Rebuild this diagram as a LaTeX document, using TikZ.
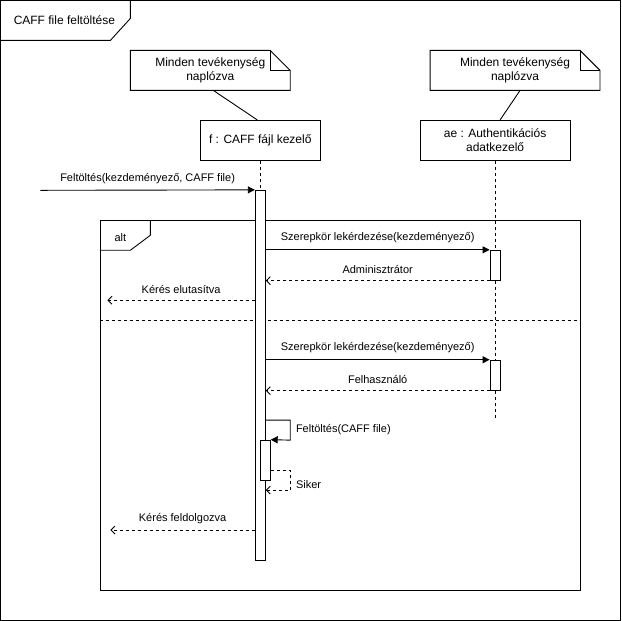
\documentclass[tikz,border=0pt]{standalone}
\usepackage{fontspec}
\setmainfont{Liberation Sans}
\usetikzlibrary{arrows.meta}

\begin{document}
\begin{tikzpicture}[x=1pt, y=-1pt, line width=0.9pt,
  every node/.style={font=\fontsize{11}{13}\selectfont},
  obj/.style={draw, fill=white, font=\fontsize{12}{14}\selectfont, align=center, inner sep=0pt},
  act/.style={draw, fill=white, minimum width=10, inner sep=0pt},
  life/.style={dash pattern=on 3pt off 3pt},
  call/.style={-{Triangle[length=7pt, width=7pt]}},
  reply/.style={dash pattern=on 3pt off 3pt, -{Straight Barb[length=4pt, width=8pt]}},
  notetext/.style={font=\fontsize{12}{14}\selectfont, align=center}
]

% === Frame ===
\fill[white] (0,0) rectangle (621,621);
\draw (0,0) rectangle (620,620);
\draw (0,40) -- (110,40) -- (130,18) -- (130,0);
\node (title) at (64,20) {\fontsize{12}{14}\selectfont CAFF file feltöltése};

% === Notes ===
\draw[fill=white] (130,50) -- (270,50) -- (290,70) -- (290,90) -- (130,90) -- cycle;
\draw (270,50) -- (270,70) -- (290,70);
\node[notetext] (note1) at (210,70) {Minden tevékenység\\naplózva};

\draw[fill=white] (430,50) -- (580,50) -- (600,70) -- (600,90) -- (430,90) -- cycle;
\draw (580,50) -- (580,70) -- (600,70);
\node[notetext] (note2) at (515,70) {Minden tevékenység\\naplózva};

% === Objects ===
\node[obj, minimum width=120, minimum height=40] (f) at (260,140) {f : CAFF fájl kezelő};
\node[obj, minimum width=150, minimum height=40] (ae) at (495,140) {ae : Authentikációs\\adatkezelő};

\draw ([xshift=3]note1.south |- 0,90) -- ([xshift=-3]f.north);
\draw ([xshift=5]note2.south |- 0,90) -- ([xshift=5]ae.north);

% === Alt frame ===
\node[draw, minimum width=480, minimum height=370, inner sep=0pt] (alt) at (340,405) {};
\draw (alt.north west |- 0,250) -- (130,250) -- (150,235) -- (150,220);
\node (altlbl) at (120,237) {alt};
\draw[life] (alt.west |- 0,320) -- (alt.east |- 0,320);

% === Lifelines ===
\coordinate (aeEnd) at (495,420);
\node[act, minimum height=370] (actF) at (260,375) {};
\node[act, minimum height=30] (actA1) at (495,265) {};
\node[act, minimum height=30] (actA2) at (495,375) {};
\draw[life] (f.south) -- (actF.north);
\draw[life] (ae.south) -- (actA1.north);
\draw[life] (actA1.south) -- (actA2.north);
\draw[life] (actA2.south) -- (aeEnd);
\node[act, minimum height=40] (actF2) at (265,460) {};

% === Messages ===
\coordinate (start) at (40,190);
\draw[call] (start) -- (actF.north west)
  node[midway, above=3pt] (m1) {Feltöltés(kezdeményező, CAFF file)};

\draw[call] (actF.east |- actA1.north) -- (actA1.north west)
  node[midway, above=3pt] (m2) {Szerepkör lekérdezése(kezdeményező)};
\draw[reply] (actA1.south west) -- (actF.east |- actA1.south)
  node[midway, above=3pt] (m3) {Adminisztrátor};

\coordinate (rejEnd) at (107,300);
\draw[reply] (actF.west |- rejEnd) -- (rejEnd)
  node[midway, above=3pt] (m4) {Kérés elutasítva};

\draw[call] (actF.east |- actA2.north) -- (actA2.north west)
  node[midway, above=3pt] (m5) {Szerepkör lekérdezése(kezdeményező)};
\draw[reply] (actA2.south west) -- (actF.east |- actA2.south)
  node[midway, above=3pt] (m6) {Felhasználó};

% self call
\draw[call] (actF.east |- 0,420) -- (290,420) -- (290,440) -- (actF2.north east);
\node[anchor=west] (m7) at (292,429) {Feltöltés(CAFF file)};
\draw[reply] (actF2.east |- 0,470) -- (290,470) -- (290,490) -- (actF.east |- 0,490);
\node[anchor=west] (m8) at (292,484) {Siker};

\coordinate (doneEnd) at (110,530);
\draw[reply] (actF.west |- doneEnd) -- (doneEnd)
  node[midway, above=3pt] (m9) {Kérés feldolgozva};

\end{tikzpicture}
\end{document}
